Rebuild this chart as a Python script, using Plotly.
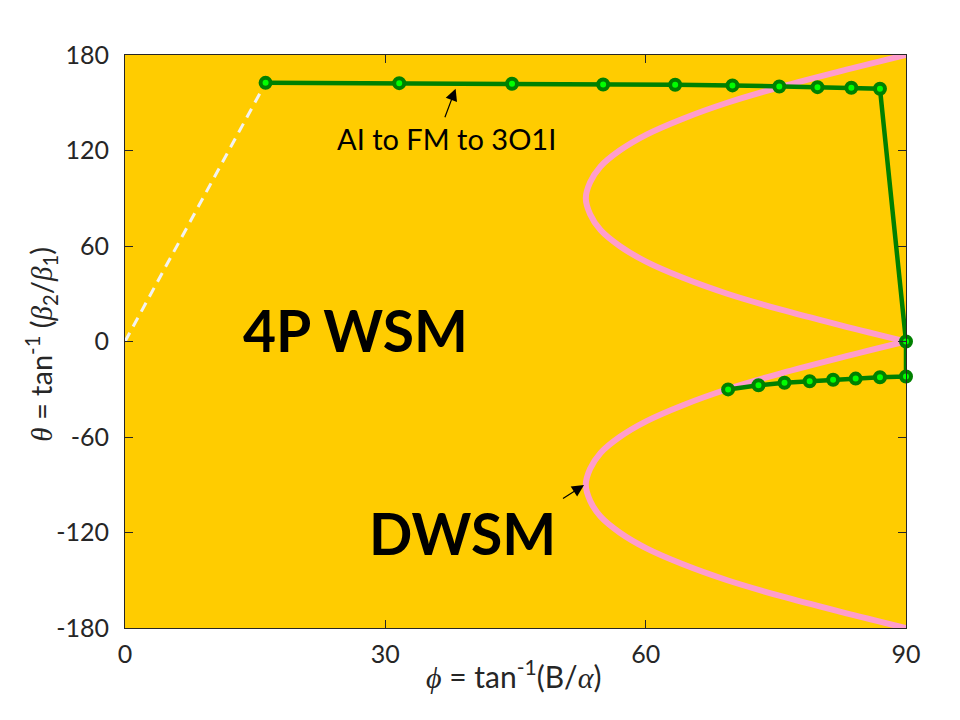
import plotly.graph_objects as go

# ---- data ----
# pink [111] boundary curve (phi vs theta)
PINK_THETA = [180, 170, 160, 150, 140, 130, 120, 110, 100, 90, 80, 70, 60, 50, 40, 30, 20, 10, 0,
              -10, -20, -30, -40, -50, -60, -70, -80, -90, -100, -110, -120, -130, -140, -150, -160, -170, -180]
PINK_PHI = [90.0, 82.6, 75.6, 69.4, 64.3, 60.1, 57.0, 54.8, 53.6, 53.1, 53.6, 54.8, 57.0, 60.1, 64.3, 69.4, 75.6, 82.6, 90.0,
            82.6, 75.6, 69.4, 64.3, 60.1, 57.0, 54.8, 53.6, 53.1, 53.6, 54.8, 57.0, 60.1, 64.3, 69.4, 75.6, 82.6, 90.0]

# green path (AI -> FM -> 3O1I)
GREEN_PHI = [16.2, 31.6, 44.6, 55.1, 63.4, 70.0, 75.4, 79.8, 83.7, 87.0,
             90.0, 90.0, 87.0, 84.2, 81.6, 78.9, 76.0, 73.0, 69.5]
GREEN_THETA = [162.5, 162.3, 161.9, 161.5, 161.3, 160.9, 160.2, 159.8, 159.4, 158.8,
               0.0, -22.0, -22.5, -23.3, -24.0, -25.0, -25.9, -27.5, -30.1]

# white dashed guide
WHITE_PHI = [0.0, 16.2]
WHITE_THETA = [0.0, 162.5]

X_TICKS = [0, 30, 60, 90]
X_TICK_LABELS = ["0", "30", "60", "90"]
Y_TICKS = [-180, -120, -60, 0, 60, 120, 180]
Y_TICK_LABELS = ["-180", "-120", "-60", "0", "60", "120", "180"]

FONT = "Lato"
SERIF = "Liberation Serif"
PINK = "#FF9DCC"
DKGREEN = "#008000"
LTGREEN = "#00FF00"
AXC = "#262626"

fig = go.Figure()

# pink curve: split at theta = 0 so the cusp stays sharp
i0 = PINK_THETA.index(0)
for sl in (slice(0, i0 + 1), slice(i0, len(PINK_THETA))):
    fig.add_trace(go.Scatter(x=PINK_PHI[sl], y=PINK_THETA[sl], mode="lines",
                             line=dict(color=PINK, width=6, shape="spline"),
                             showlegend=False, hoverinfo="skip"))

fig.add_trace(go.Scatter(x=WHITE_PHI, y=WHITE_THETA, mode="lines",
                         line=dict(color="#F2F2F2", width=3, dash="10px,7px"),
                         showlegend=False, hoverinfo="skip"))

fig.add_trace(go.Scatter(x=GREEN_PHI, y=GREEN_THETA, mode="lines+markers",
                         line=dict(color=DKGREEN, width=4.5),
                         marker=dict(size=10, color=LTGREEN, line=dict(color=DKGREEN, width=4)),
                         cliponaxis=False, showlegend=False, hoverinfo="skip"))

def sym(ch):
    return f"<span style=\"font-family:{SERIF}\"><i>{ch}</i></span>"

C = dict(xanchor="center", yanchor="middle")
annotations = [
    dict(text="AI to FM to 3O1I", x=37.0, y=127.4, xref="x", yref="y", showarrow=False,
         font=dict(family=FONT, size=29, color="black"), **C),
    dict(text="", x=38.1, y=158.8, ax=36.8, ay=140.0, xref="x", yref="y", axref="x", ayref="y",
         showarrow=True, arrowhead=2, arrowsize=2, arrowwidth=1.2, arrowcolor="black", standoff=0),
    dict(text="<b>4P WSM</b>", x=26.6, y=7.0, xref="x", yref="y", showarrow=False,
         font=dict(family=FONT, size=57, color="black"), **C),
    dict(text="<b>DWSM</b>", x=38.9, y=-120.0, xref="x", yref="y", showarrow=False,
         font=dict(family=FONT, size=57, color="black"), **C),
    dict(text="", x=52.9, y=-90.2, ax=50.3, ay=-99.2, xref="x", yref="y", axref="x", ayref="y",
         showarrow=True, arrowhead=2, arrowsize=2, arrowwidth=1.2, arrowcolor="black", standoff=0),
    dict(text="[111]", x=87.2, y=188.5, xref="x", yref="y", showarrow=False,
         font=dict(family=FONT, size=25, color="black"), **C),
    dict(text=f"{sym('ϕ')} = tan<sup>-1</sup>(B/{sym('α')})", x=0.497, y=-0.08,
         xref="paper", yref="paper", showarrow=False,
         font=dict(family=FONT, size=30, color=AXC), **C),
    dict(text=f"{sym('θ')} = tan<sup>-1</sup> ({sym('β')}<sub>2</sub>/{sym('β')}<sub>1</sub>)",
         x=-0.107, y=0.495, xref="paper", yref="paper", showarrow=False, textangle=-90,
         font=dict(family=FONT, size=29, color=AXC), **C),
]

axis_common = dict(showgrid=False, zeroline=False, showline=True, linecolor=AXC, linewidth=1,
                   mirror="ticks", ticks="inside", ticklen=8, tickwidth=1, tickcolor=AXC,
                   tickfont=dict(family=FONT, size=25, color=AXC))

# the page body has an 8px margin, so the figure is shifted by 8px
fig.update_layout(
    width=952, height=712,
    margin=dict(l=117, r=54, t=47, b=92),
    paper_bgcolor="white", plot_bgcolor="#FFCC00",
    xaxis=dict(range=[0, 90], tickvals=X_TICKS, ticktext=X_TICK_LABELS, ticklabelstandoff=4, **axis_common),
    yaxis=dict(range=[-180, 180], tickvals=Y_TICKS, ticktext=Y_TICK_LABELS, ticklabelstandoff=10, **axis_common),
    annotations=annotations,
    showlegend=False,
)

fig.write_html("out.html")
